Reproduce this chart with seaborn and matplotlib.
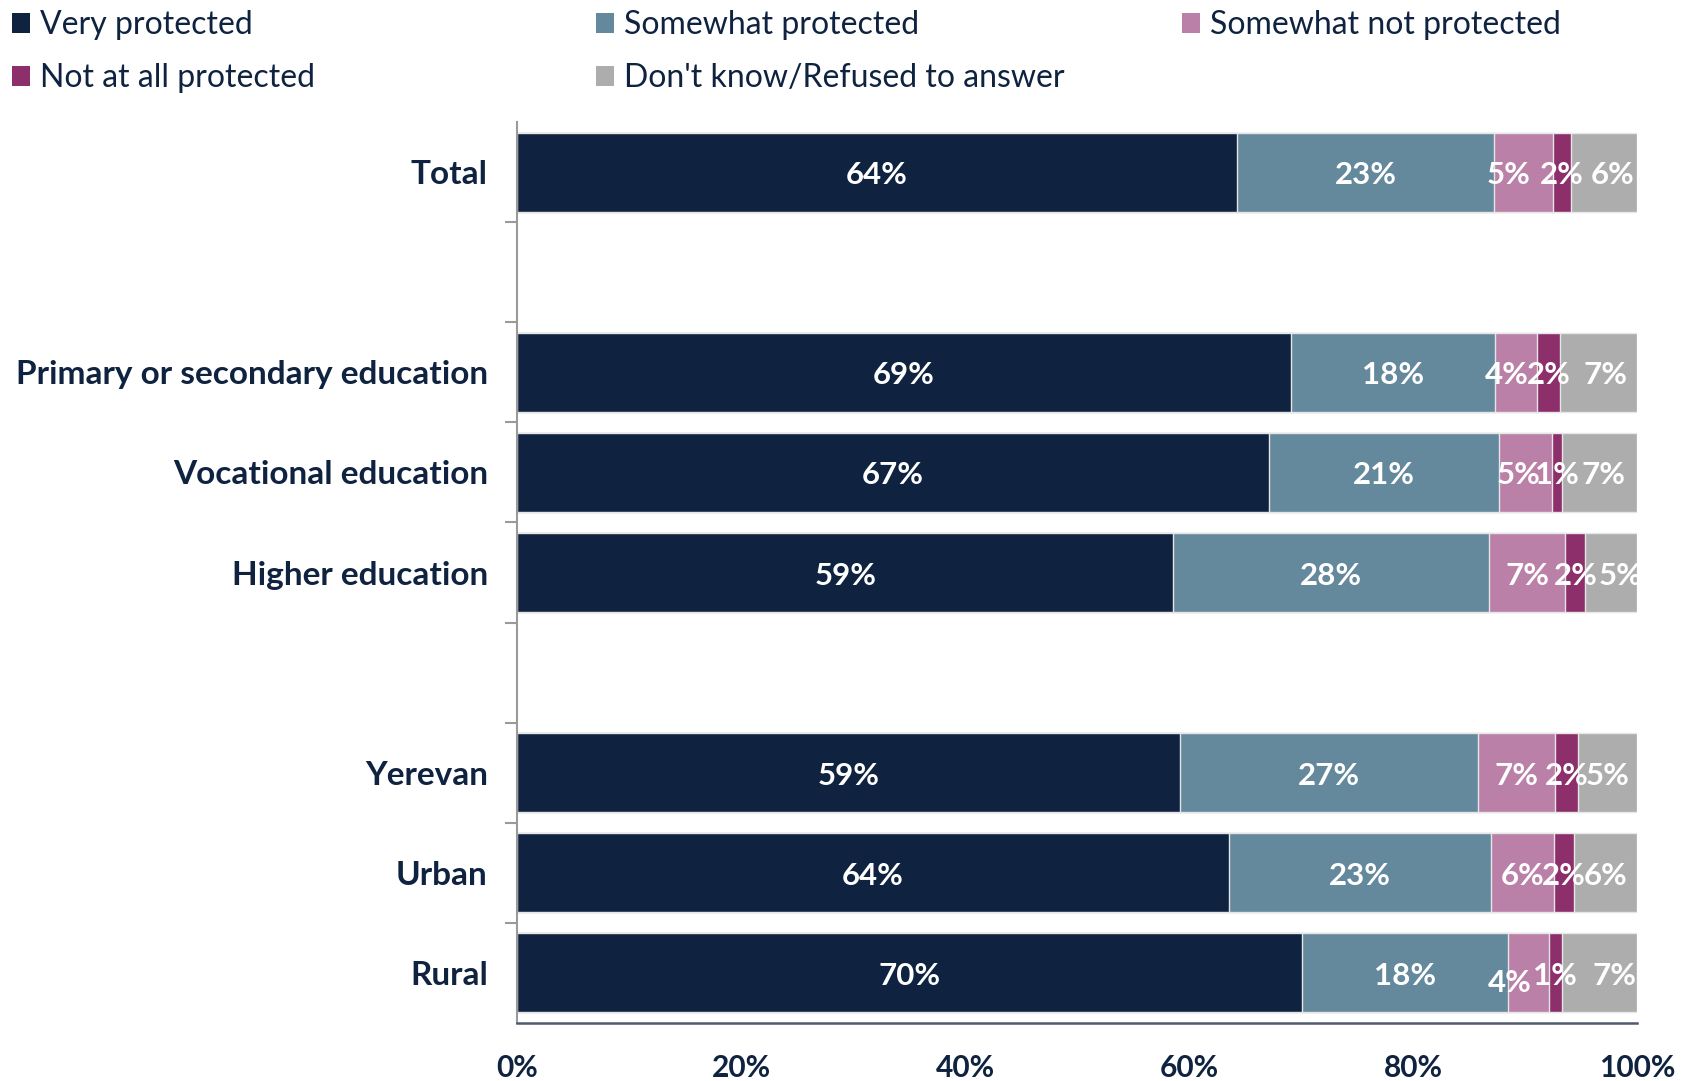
import numpy as np
import pandas as pd
import seaborn as sns
import matplotlib.pyplot as plt
from matplotlib.patches import Patch
from matplotlib.ticker import FixedLocator

sns.set_theme(style="white")
plt.rcParams['font.family'] = ['Lato', 'DejaVu Sans']

categories = ["Total", " ", "Primary or secondary education", "Vocational education",
              "Higher education", "  ", "Yerevan", "Urban", "Rural"]
series_names = ["Very protected", "Somewhat protected", "Somewhat not protected",
                "Not at all protected", "Don't know/Refused to answer"]
very = [64.3, np.nan, 69.1, 67.1, 58.6, np.nan, 59.2, 63.6, 70.1]
somewhat = [22.9, np.nan, 18.2, 20.6, 28.2, np.nan, 26.6, 23.4, 18.4]
somewhat_not = [5.3, np.nan, 3.8, 4.7, 6.8, np.nan, 6.9, 5.6, 3.6]
not_at_all = [1.6, np.nan, 2.0, 0.9, 1.8, np.nan, 2.0, 1.8, 1.2]
dont_know = [5.9, np.nan, 6.9, 6.7, 4.6, np.nan, 5.3, 5.6, 6.7]
x_ticks = [0, 20, 40, 60, 80, 100]
x_tick_labels = ["0%", "20%", "40%", "60%", "80%", "100%"]

colors = ["#0f2340", "#64889c", "#bb80a7", "#8d2f6b", "#adadad"]
navy = "#0f2340"

# label placement nudges (row, series) -> (dx in data units, dy in category units)
label_nudge = {
    (0, 2): (-1.3, 0), (0, 4): (0.8, 0),
    (2, 2): (-0.8, 0), (2, 4): (0.6, 0),
    (3, 2): (-0.6, 0), (3, 4): (0.4, 0),
    (4, 4): (0.8, 0),
    (8, 2): (-1.7, 0.07), (8, 4): (1.35, 0),
}

series = [very, somewhat, somewhat_not, not_at_all, dont_know]
df = pd.DataFrame({name: vals for name, vals in zip(series_names, series)})
df["category"] = categories
cum = df[series_names].cumsum(axis=1)

fig = plt.figure(figsize=(16.93, 10.81), dpi=100)
ax = fig.add_axes([517 / 1693, 1 - 1023 / 1081, (1637 - 517) / 1693, (1023 - 122) / 1081])

for i in reversed(range(len(series_names))):
    plot_df = pd.DataFrame({"category": categories, "value": cum[series_names[i]].values})
    sns.barplot(data=plot_df, y="category", x="value", order=categories, orient="h",
                color=colors[i], width=0.79, edgecolor="#e6e6e6", linewidth=1.0,
                saturation=1, ax=ax, errorbar=None)

# value labels
for r, cat in enumerate(categories):
    left = 0.0
    for i, name in enumerate(series_names):
        v = df[name].iloc[r]
        if np.isnan(v):
            continue
        dx, dy = label_nudge.get((r, i), (0, 0))
        ax.text(left + v / 2 + dx, r + 0.03 + dy, f"{v:.0f}%", ha="center", va="center",
                color="white", fontsize=22.5, fontweight="bold")
        left += v

ax.set_xlim(0, 100)
ax.set_ylim(len(categories) - 0.5, -0.5)
ax.set_xlabel("")
ax.set_ylabel("")

ax.set_xticks(x_ticks)
ax.set_xticklabels(x_tick_labels, fontsize=21.5, fontweight="bold", color=navy)
ax.tick_params(axis="x", direction="in", length=10, width=1.2, color=navy, pad=22)

ylabels = [c if c.strip() else "" for c in categories]
ax.set_yticks(range(len(categories)))
ax.set_yticklabels(ylabels, fontsize=24, fontweight="bold", color=navy)
ax.tick_params(axis="y", which="major", length=0, pad=21)
ax.yaxis.set_minor_locator(FixedLocator(np.arange(0.5, len(categories) - 1, 1.0)))
ax.tick_params(axis="y", which="minor", direction="out", length=9, width=1.5,
               color="#9a9a9a", left=True)

for s in ["top", "right"]:
    ax.spines[s].set_visible(False)
ax.spines["left"].set_color("#9a9a9a")
ax.spines["left"].set_linewidth(1.5)
ax.spines["bottom"].set_color("#4f5a6b")
ax.spines["bottom"].set_linewidth(1.8)

# legend: three columns placed as in the reference
handles = [Patch(facecolor=c, edgecolor="none") for c in colors]
col_items = [[0, 3], [1, 4], [2]]
col_x = [6 / 1693, 590 / 1693, 1176 / 1693]
for items, x in zip(col_items, col_x):
    fig.legend([handles[k] for k in items], [series_names[k] for k in items],
               loc="upper left", bbox_to_anchor=(x, 1 - 4 / 1081), frameon=False,
               fontsize=23, labelcolor=navy, handlelength=0.55, handleheight=0.55,
               handletextpad=0.3, labelspacing=0.72, borderaxespad=0, borderpad=0.2)

fig.savefig("out.png", dpi=100)
